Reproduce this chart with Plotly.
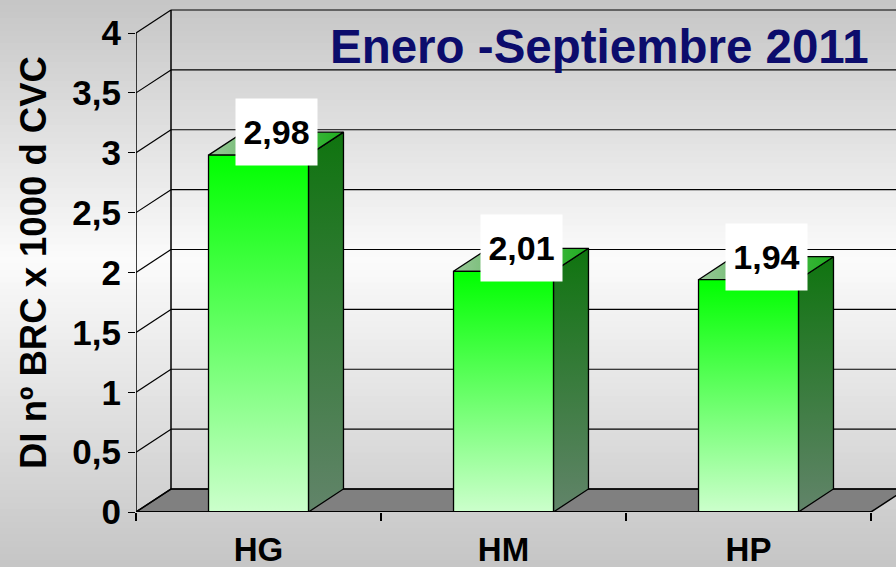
import plotly.graph_objects as go

# ---------------- data ----------------
categories = ["HG", "HM", "HP"]
values = [2.98, 2.01, 1.94]
y_tick_values = [0, 0.5, 1, 1.5, 2, 2.5, 3, 3.5, 4]
y_tick_labels = ["0", "0,5", "1", "1,5", "2", "2,5", "3", "3,5", "4"]
y_axis_title = "DI nº BRC x 1000 d CVC"
chart_title = "Enero -Septiembre 2011"

# ---------------- geometry / style ----------------
W, H = 896, 567
ML, MB = 136, 55
plot_w = W - ML
plot_h = H - MB
px_per_x = 245.0
px_per_y = 119.75
x_min = -0.5
x_max = x_min + plot_w / px_per_x
y_max = plot_h / px_per_y
DX = 35 / px_per_x
DY = 23 / px_per_y
HALF = 0.204
n = len(categories)
x_end = n - 0.5
y_top = y_tick_values[-1]
FONT = "Liberation Sans, Arial, sans-serif"


def path(pts):
    return "M " + " L ".join(f"{x:.5f},{y:.5f}" for x, y in pts) + " Z"


shapes = []
# page background gradient (gray -> white -> gray)
N = 90
for i in range(N):
    t0 = i / N
    t1 = (i + 1) / N
    tm = (t0 + t1) / 2
    peak = 0.46
    f = tm / peak if tm < peak else (1 - tm) / (1 - peak)
    g = int(round(197 + (251 - 197) * f))
    y_hi = (plot_h - t0 * H) / plot_h + 0.002
    y_lo = (plot_h - t1 * H) / plot_h - 0.002
    shapes.append(dict(type="rect", xref="paper", yref="paper",
                       x0=-ML / plot_w - 0.01, x1=1.01, y0=y_lo, y1=y_hi,
                       fillcolor=f"rgb({g},{g},{g})", line=dict(width=0),
                       layer="below"))

# floor
shapes.append(dict(type="path", xref="x", yref="y",
                   path=path([(x_min, 0), (x_end, 0), (x_end + DX, DY), (x_min + DX, DY)]),
                   fillcolor="#808080", line=dict(color="black", width=1.5),
                   layer="below"))

# gridlines on side wall and back wall
for v in y_tick_values:
    shapes.append(dict(type="line", xref="x", yref="y", x0=x_min, y0=v,
                       x1=x_min + DX, y1=v + DY,
                       line=dict(color="black", width=1.2), layer="below"))
    shapes.append(dict(type="line", xref="x", yref="y", x0=x_min + DX, y0=v + DY,
                       x1=x_end + DX, y1=v + DY,
                       line=dict(color="black", width=1.2), layer="below"))

# back wall left edge
shapes.append(dict(type="line", xref="x", yref="y", x0=x_min + DX, y0=DY,
                   x1=x_min + DX, y1=y_top + DY,
                   line=dict(color="black", width=1.5), layer="below"))
# front value axis line
shapes.append(dict(type="line", xref="x", yref="y", x0=x_min, y0=0,
                   x1=x_min, y1=y_top, line=dict(color="black", width=1.5),
                   layer="above"))
# front category axis line
shapes.append(dict(type="line", xref="x", yref="y", x0=x_min, y0=0,
                   x1=x_end, y1=0, line=dict(color="black", width=2),
                   layer="above"))

fig = go.Figure()

for i, (cat, v) in enumerate(zip(categories, values)):
    xl, xr = i - HALF, i + HALF
    side = [(xr, 0), (xr + DX, DY), (xr + DX, v + DY), (xr, v), (xr, 0)]
    top = [(xl, v), (xr, v), (xr + DX, v + DY), (xl + DX, v + DY), (xl, v)]
    front = [(xl, 0), (xr, 0), (xr, v), (xl, v), (xl, 0)]
    faces = [
        (side, "vertical", [[0, "#62846a"], [1, "#0f740f"]]),
        (top, "horizontal", [[0, "#98c698"], [1, "#1eae1e"]]),
        (front, "vertical", [[0, "#ccffcc"], [1, "#00ff00"]]),
    ]
    for pts, orient, cs in faces:
        fig.add_trace(go.Scatter(
            x=[p[0] for p in pts], y=[p[1] for p in pts],
            mode="lines", fill="toself",
            fillgradient=dict(type=orient, colorscale=cs),
            line=dict(color="black", width=1.3),
            hoverinfo="skip", showlegend=False))

annotations = []
for i, v in enumerate(values):
    annotations.append(dict(
        x=i + DX / 2, y=v + DY, xref="x", yref="y",
        text=f"{v:.2f}".replace(".", ","), showarrow=False,
        font=dict(family=FONT, size=34, color="black", weight="bold"),
        bgcolor="white", borderpad=0, width=81, height=66,
        xanchor="center", yanchor="middle"))

annotations.append(dict(
    x=(599 - ML) / plot_w, y=(plot_h - 46) / plot_h, xref="paper", yref="paper",
    text=chart_title, showarrow=False, xanchor="center", yanchor="middle",
    font=dict(family=FONT, size=47.5, color="#0c0c6c", weight="bold")))

annotations.append(dict(
    x=(33 - ML) / plot_w, y=(plot_h - 263) / plot_h, xref="paper", yref="paper",
    text=y_axis_title, showarrow=False, textangle=-90,
    xanchor="center", yanchor="middle",
    font=dict(family=FONT, size=36.5, color="black", weight="bold")))

fig.update_layout(
    width=W, height=H,
    margin=dict(l=ML, r=0, t=0, b=MB, pad=0, autoexpand=False),
    paper_bgcolor="#c8c8c8", plot_bgcolor="rgba(0,0,0,0)",
    shapes=shapes, annotations=annotations, showlegend=False,
    xaxis=dict(range=[x_min, x_max], tickmode="array", automargin=False,
               tickvals=list(range(n)), ticktext=categories,
               ticks="", showline=False, showgrid=False, zeroline=False,
               tickfont=dict(family=FONT, size=33, color="black", weight="bold"),
               ticklabelstandoff=15,
               minor=dict(tickmode="array",
                          tickvals=[k - 0.5 for k in range(n + 1)],
                          ticks="outside", ticklen=8, tickwidth=1.5,
                          tickcolor="black", showgrid=False),
               fixedrange=True),
    yaxis=dict(range=[0, y_max], tickmode="array", automargin=False,
               tickvals=y_tick_values, ticktext=y_tick_labels,
               ticks="outside", ticklen=7, tickwidth=1.2, tickcolor="black",
               showline=False, showgrid=False, zeroline=False,
               tickfont=dict(family=FONT, size=35, color="black", weight="bold"),
               fixedrange=True),
)

fig.write_html(
    "out.html",
    config={"displayModeBar": False},
    post_script="document.body.style.margin='0';document.body.style.overflow='hidden';",
)
